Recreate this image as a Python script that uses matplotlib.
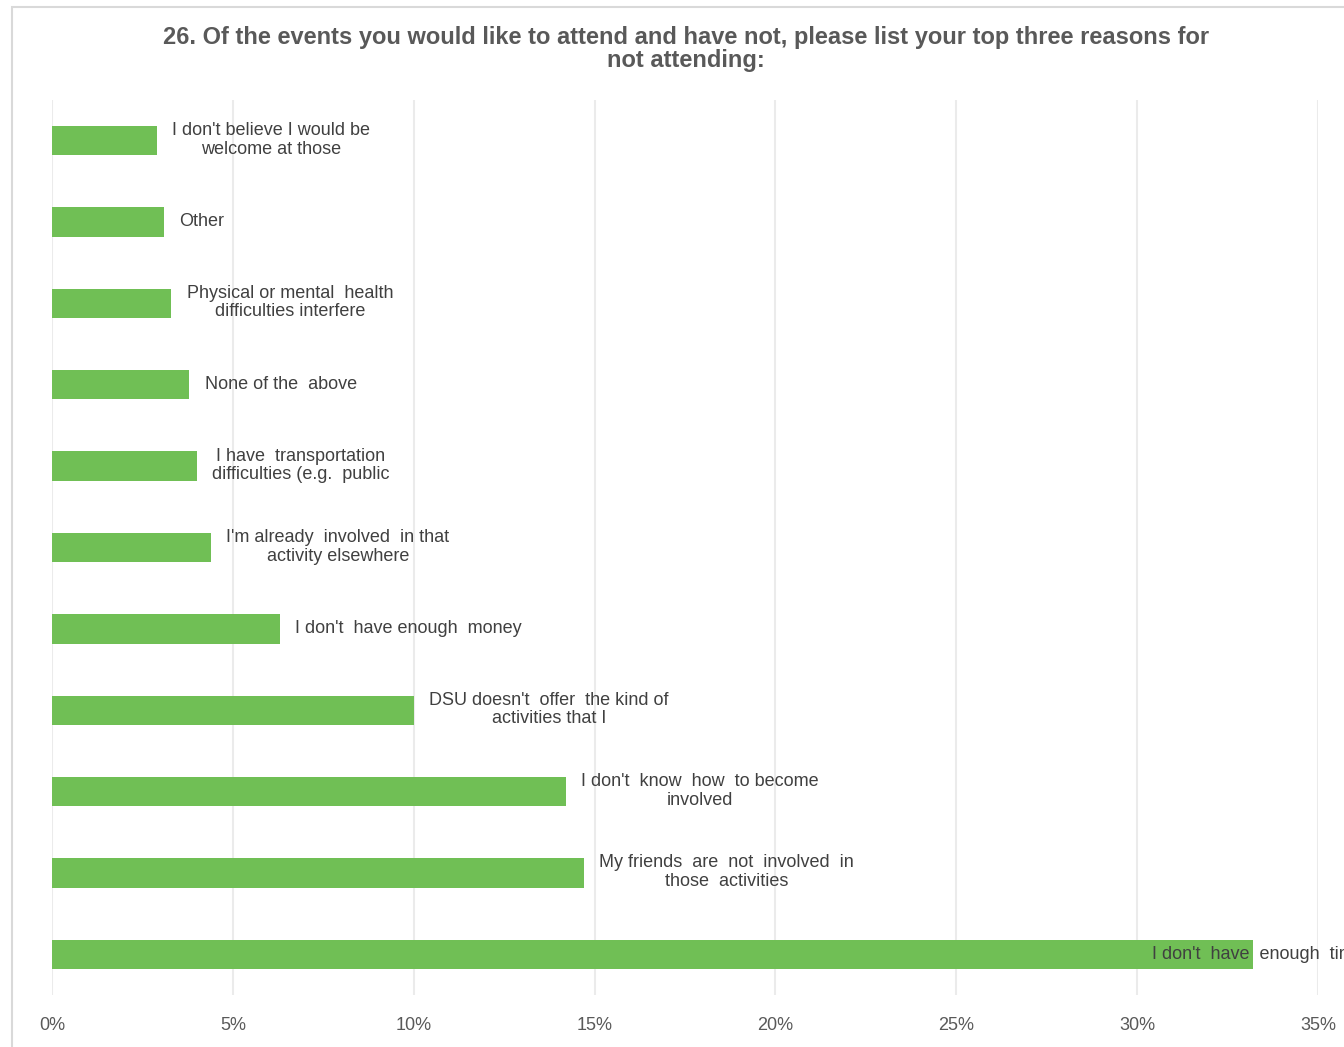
import numpy as np
import matplotlib.pyplot as plt
from matplotlib.patches import Rectangle

# reasons, top to bottom as shown in the chart
reasons = [
    "I don't believe I would be\nwelcome at those",
    "Other",
    "Physical or mental  health\ndifficulties interfere",
    "None of the  above",
    "I have  transportation\ndifficulties (e.g.  public",
    "I'm already  involved  in that\nactivity elsewhere",
    "I don't  have enough  money",
    "DSU doesn't  offer  the kind of\nactivities that I",
    "I don't  know  how  to become\ninvolved",
    "My friends  are  not  involved  in\nthose  activities",
    "I don't  have  enough  time",
]
share = [2.9, 3.1, 3.3, 3.8, 4.0, 4.4, 6.3, 10.0, 14.2, 14.7, 33.2]  # percent
xticks = [0, 5, 10, 15, 20, 25, 30, 35]

green = '#70BF55'
grey_txt = '#595959'
label_col = '#404040'
font = ['Liberation Sans Narrow', 'Liberation Sans', 'DejaVu Sans']

plt.rcParams['font.family'] = font

fig = plt.figure(figsize=(13.44, 10.47), dpi=100)
ax = fig.add_axes([52/1344, 1 - 995/1047, (1318-52)/1344, (995-100)/1047])

# chart frame like the excel chart area
fig.patches.append(Rectangle((12/1344, -0.05), 1.1, 1 - 7/1047 + 0.05,
                             transform=fig.transFigure, fill=False,
                             edgecolor='#D9D9D9', linewidth=1.5))

y = np.arange(len(reasons))
ax.barh(y, share, height=0.36, color=green, zorder=2)

for i, (lab, v) in enumerate(zip(reasons, share)):
    if i == len(reasons) - 1:
        # the longest bar: excel pushed the label back over the bar end
        ax.text(30.4, i, lab, ha='left', va='center', fontsize=13,
                color=label_col, clip_on=False, zorder=3)
    else:
        ax.annotate(lab, (v, i), xytext=(11, 0.5), textcoords='offset points',
                    ha='left', va='center', multialignment='center',
                    fontsize=13, color=label_col, linespacing=1.12, zorder=3)

ax.set_xlim(0, 35)
ax.set_ylim(len(reasons) - 0.5, -0.5)
ax.set_xticks(xticks)
ax.set_xticklabels([f'{t}%' for t in xticks], fontsize=13, color=grey_txt)
ax.set_yticks([])
ax.tick_params(axis='x', length=0, pad=16)
ax.grid(axis='x', color='#EBEBEB', linewidth=1.5, zorder=0)
for s in ax.spines.values():
    s.set_visible(False)
ax.patch.set_alpha(0)

fig.text(686/1344, 1 - 49/1047,
         "26. Of the events you would like to attend and have not, please list your top three reasons for\nnot attending:",
         ha='center', va='center', fontsize=17, fontweight='bold',
         color=grey_txt, linespacing=1.0, family=['Liberation Sans', 'DejaVu Sans'])

fig.savefig('out.png', dpi=100)
